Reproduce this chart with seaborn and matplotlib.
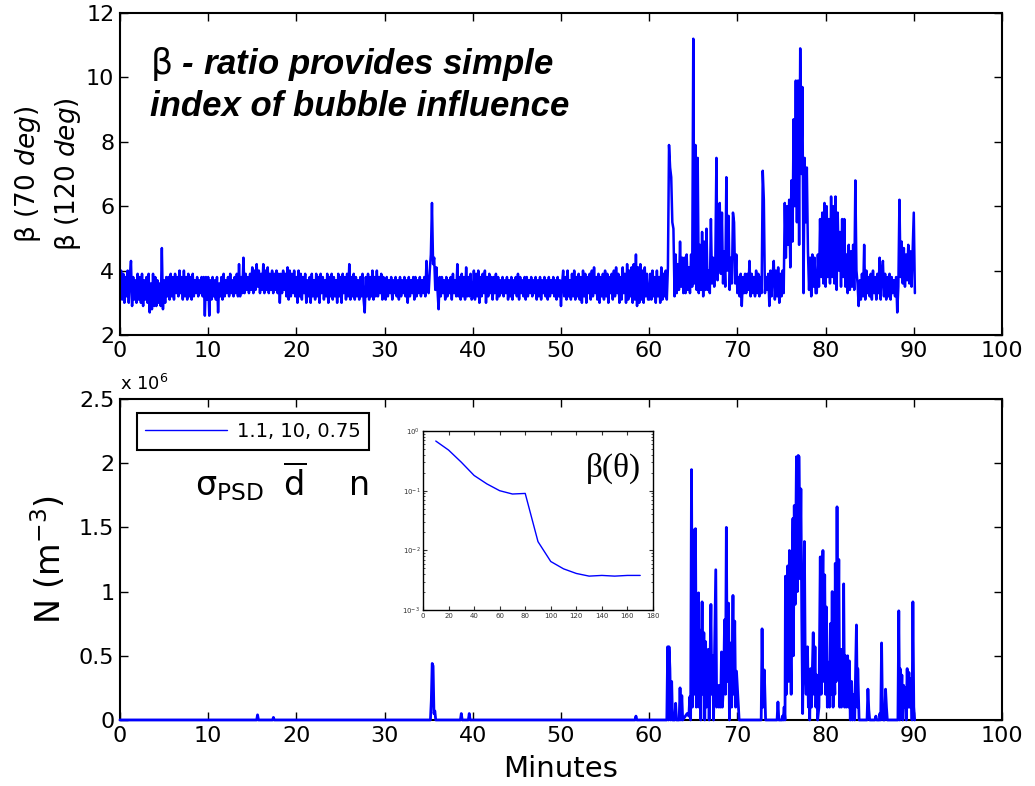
import numpy as np
import pandas as pd
import matplotlib
matplotlib.use("Agg")
import matplotlib.pyplot as plt
import seaborn as sns

# ---------------- data ----------------
# top panel: beta ratio, 8 samples per minute (rows = one minute), values in tenths
beta_min_00_09 = [
    [35,40,31,39,30,38,32,40], [30,38,43,29,38,31,37,30], [39,31,38,30,39,29,37,31],
    [38,30,39,27,36,28,39,29], [38,29,37,30,36,29,47,28], [37,30,38,32,38,31,39,32],
    [38,31,39,33,38,32,40,33], [38,31,40,32,38,31,39,32], [38,31,39,32,37,33,38,32],
    [37,33,38,32,38,26,38,31]]
beta_min_10_19 = [
    [38,26,37,31,38,32,37,31], [38,27,36,32,38,31,39,32], [37,33,38,32,39,33,37,32],
    [38,33,39,32,42,32,38,33], [44,33,39,34,38,33,39,34], [41,33,40,34,42,35,40,33],
    [39,34,42,33,40,34,41,33], [39,34,40,33,39,34,40,33], [39,30,39,33,40,34,39,32],
    [41,31,40,32,39,33,40,32]]
beta_min_20_29 = [
    [38,30,40,32,39,31,38,33], [39,30,37,32,38,30,39,32], [37,31,39,32,38,30,39,33],
    [38,31,37,32,39,30,38,32], [39,31,38,32,37,30,39,32], [38,30,39,33,38,31,39,32],
    [42,31,38,32,39,31,38,32], [37,31,38,32,39,31,27,38], [32,39,31,38,32,40,31,38],
    [32,40,32,38,33,39,31,38]]
beta_min_30_39 = [
    [37,31,38,32,37,33,38,31], [37,33,38,32,37,31,38,32], [37,33,38,32,37,30,38,32],
    [37,33,38,31,38,32,37,33], [38,32,37,33,38,32,43,34], [33,40,45,61,42,44,34,41],
    [34,28,38,32,38,33,37,31], [38,32,37,33,38,31,39,33], [37,32,42,32,38,31,39,32],
    [38,31,41,32,38,32,39,31]]
beta_min_40_49 = [
    [32,40,31,39,32,40,30,38], [32,39,33,40,30,38,32,39], [33,38,31,38,33,39,31,38],
    [32,37,33,38,32,37,33,38], [31,37,32,38,31,37,33,38], [32,39,31,38,33,37,32,38],
    [31,38,32,37,33,38,32,37], [33,38,31,37,32,38,31,37], [33,38,32,37,31,38,32,37],
    [33,38,32,37,31,38,32,37]]
beta_min_50_59 = [
    [29,36,40,32,38,31,40,32], [37,31,39,32,40,31,38,32], [39,31,38,30,40,32,39,30],
    [38,33,39,31,40,32,41,33], [38,31,39,30,38,32,39,31], [40,32,39,30,38,33,39,31],
    [40,32,41,33,39,30,38,31], [41,33,39,30,42,31,40,32], [41,30,42,31,45,29,41,30],
    [42,31,40,30,41,32,39,31]]
beta_min_60_69 = [
    [31,39,31,40,32,38,30,40], [32,38,30,41,31,39,32,40], [31,41,79,72,69,55,53,32],
    [45,33,42,34,49,35,44,33], [44,33,45,34,41,33,45,35], [112,36,79,34,75,33,48,34],
    [52,32,49,34,53,34,40,33], [56,36,44,35,43,75,37,45], [61,39,58,36,46,35,69,40],
    [57,34,44,36,58,55,36,45]]
beta_min_70_79 = [
    [33,38,32,39,29,38,33,39], [33,39,34,43,32,39,33,38], [32,40,33,39,32,38,33,71],
    [62,33,38,34,39,29,40,32], [39,43,31,40,32,41,30,39], [32,40,33,61,44,60,48,62],
    [41,68,49,87,60,99,55,99], [48,109,70,97,33,75,55,72], [46,34,44,32,45,35,44,33],
    [33,45,35,56,38,58,36,61]]
beta_min_80_90 = [
    [35,60,38,56,36,63,38,60], [36,63,34,58,40,52,35,56], [38,56,35,45,33,48,34,46],
    [35,48,34,68,40,36,29,37], [31,39,32,48,31,40,33,38], [32,39,31,40,33,38,31,39],
    [33,44,31,39,43,32,39,31], [38,32,39,31,38,33,37,32], [38,27,35,62,38,49,36,47],
    [35,45,37,48,36,46,35,47], [58,33]]
samples_per_minute = 8

# bottom panel: bubble number density (units of 1e6 m^-3), event list
n_minutes = [0, 15.5, 15.6, 15.7, 17.3, 17.4, 17.5, 35.2, 35.3, 35.4, 35.5, 35.6, 35.7, 35.8,
             38.6, 38.7, 38.8, 39.5, 39.6, 39.7, 58.4, 58.5, 58.6,
             62.0, 62.1, 62.2, 62.25, 62.35, 62.45, 62.55, 62.65, 62.9, 63.0, 63.1,
             63.4, 63.5, 63.6, 63.7, 63.8, 64.1, 64.3, 64.5, 64.6, 64.7,
             64.8, 64.9, 65.0, 65.1, 65.25, 65.35, 65.45, 65.6, 65.65, 65.75, 65.85,
             66.0, 66.1, 66.2, 66.3, 66.4, 66.5, 66.7, 66.8, 67.0, 67.1, 67.2, 67.3,
             67.55, 67.65, 67.8, 67.9, 68.05, 68.1, 68.2, 68.3, 68.45, 68.55, 68.65,
             68.75, 68.85, 69.0, 69.1, 69.25, 69.35, 69.5, 69.6, 69.7, 69.8, 69.9, 70.2,
             72.7, 72.8, 72.9, 73.05, 73.2, 74.5, 74.6, 74.7,
             75.05, 75.1, 75.2, 75.3, 75.4, 75.45, 75.55, 75.7, 75.8, 75.9, 76.0, 76.1,
             76.3, 76.35, 76.45, 76.55, 76.7, 76.8, 76.9, 77.0, 77.1, 77.2, 77.3, 77.4,
             77.6, 77.7, 77.8, 77.95, 78.05, 78.1, 78.2, 78.3, 78.4, 78.6, 78.7, 78.8,
             78.9, 79.0, 79.1, 79.25, 79.4, 79.5, 79.6, 79.7, 79.8, 79.9, 80.0, 80.1,
             80.2, 80.35, 80.45, 80.55, 80.65, 80.75, 80.85, 80.95, 81.05, 81.1, 81.2,
             81.3, 81.4, 81.5, 81.6, 81.7, 81.8, 81.9, 82.0, 82.05, 82.15, 82.25, 82.35,
             82.5, 82.6, 82.7, 82.8, 82.95, 83.05, 83.15, 83.3, 83.5, 83.6, 83.65, 83.8,
             84.7, 84.8, 84.9, 85.0, 85.6, 85.7, 85.8, 86.1, 86.15, 86.25, 86.35, 86.45,
             86.55, 86.7, 86.8, 86.9, 87.0,
             88.2, 88.3, 88.4, 88.45, 88.55, 88.65, 88.75, 88.85, 88.95, 89.05, 89.15,
             89.25, 89.35, 89.45, 89.5, 89.6, 89.65, 89.7, 89.8, 89.9, 90.0, 90.1]
n_values = [0, 0, 0.04, 0, 0, 0.02, 0, 0, 0.15, 0.44, 0.42, 0.05, 0.07, 0,
            0, 0.05, 0, 0, 0.05, 0, 0, 0.03, 0,
            0, 0.57, 0.0, 0.57, 0.40, 0.0, 0.30, 0, 0, 0.13, 0,
            0, 0.25, 0.0, 0.19, 0, 0.03, 0.05, 0.03, 0.18, 0,
            1.95, 0.1, 1.48, 0.2, 1.49, 0.1, 0.4, 0.99, 0.1, 0.7, 0,
            0.92, 0.2, 0.68, 0.0, 0.61, 0.1, 0.55, 0.0, 0.90, 0.2, 0.5, 0,
            1.17, 0.1, 0.27, 0.1, 0.27, 0.1, 0.53, 0.1, 0.3, 0.78, 0.2,
            1.50, 0.3, 0.91, 0.0, 0.6, 0.1, 0.97, 0.2, 0.77, 0.1, 0.38, 0,
            0, 0.71, 0.1, 0.39, 0, 0, 0.14, 0,
            0, 0.03, 0, 0.10, 0, 1.12, 0.2, 1.20, 0.3, 1.32, 0.6, 0.2,
            1.57, 0.5, 1.67, 0.9, 2.05, 1.0, 2.06, 2.05, 1.1, 1.80, 0.8, 0.05,
            1.39, 0.36, 0.2, 0.57, 0.1, 0.39, 0.0, 0.4, 0.1, 0.68, 0.2, 0.57,
            0.1, 0.35, 0.0, 0.1, 1.27, 0.2, 0.78, 1.32, 0.3, 1.13, 0.2, 0.88,
            0.1, 0.45, 0.1, 0.75, 0.2, 1.0, 0.1, 0.5, 0.2, 1.22, 0.3,
            1.66, 0.4, 1.25, 0.1, 0.55, 0.1, 0.55, 0.2, 1.06, 0.1, 0.5, 0.1,
            0.5, 0.1, 0.46, 0.0, 0.3, 0.0, 0.2, 0.0, 0.74, 0.1, 0.4, 0,
            0, 0.24, 0.08, 0, 0, 0.03, 0, 0, 0.05, 0, 0.60, 0.05,
            0, 0, 0.24, 0.1, 0,
            0, 0.85, 0.0, 0.40, 0.1, 0.35, 0.0, 0.27, 0.1, 0.25, 0.0,
            0.40, 0.1, 0.37, 0.1, 0.32, 0.1, 0.32, 0.0, 0.92, 0.1, 0]

# inset: beta(theta)
theta_deg = [10, 20, 30, 40, 50, 60, 70, 80, 90, 100, 110, 120, 130, 140, 150, 160, 170]
beta_theta = [0.68, 0.48, 0.30, 0.18, 0.13, 0.10, 0.088, 0.090, 0.014, 0.0065,
              0.0049, 0.0041, 0.0037, 0.0038, 0.0037, 0.0038, 0.0038]

legend_label = "1.1, 10, 0.75"
x_ticks = [0, 10, 20, 30, 40, 50, 60, 70, 80, 90, 100]
top_yticks = [2, 4, 6, 8, 10, 12]
bot_yticks = [0, 0.5, 1, 1.5, 2, 2.5]
bot_yticklabels = ["0", "0.5", "1", "1.5", "2", "2.5"]

# ---------------- build frames ----------------
rows = (beta_min_00_09 + beta_min_10_19 + beta_min_20_29 + beta_min_30_39 +
        beta_min_40_49 + beta_min_50_59 + beta_min_60_69 + beta_min_70_79 + beta_min_80_90)
beta_all = np.array([v for r in rows for v in r]) / 10.0
minutes = np.arange(len(beta_all)) / samples_per_minute
df_top = pd.DataFrame({"Minutes": minutes, "beta": beta_all})
df_bot = pd.DataFrame({"Minutes": n_minutes, "N": n_values})
df_in = pd.DataFrame({"theta": theta_deg, "beta": beta_theta})

# ---------------- style ----------------
sns.set_style("ticks")
plt.rcParams["font.family"] = ["DejaVu Sans"]
plt.rcParams["mathtext.fontset"] = "dejavusans"
for k in ["text.color", "axes.labelcolor", "xtick.color", "ytick.color"]:
    plt.rcParams[k] = "black"

BLUE = "#0000ff"
fig = plt.figure(figsize=(10.35, 7.86), dpi=100)
ax1 = fig.add_axes([0.1159, 0.5738, 0.8522, 0.4097])
ax2 = fig.add_axes([0.1159, 0.0840, 0.8522, 0.4084])
axin = fig.add_axes([0.4087, 0.2239, 0.2222, 0.2277])

def style_axes(ax, size=16, lw=1.5, tl=6):
    for s in ax.spines.values():
        s.set_linewidth(lw)
        s.set_color("black")
        s.set_visible(True)
    ax.tick_params(direction="in", top=True, right=True, length=tl, width=1,
                   labelsize=size, colors="black", pad=4)

# top panel
sns.lineplot(data=df_top, x="Minutes", y="beta", ax=ax1, color=BLUE, linewidth=1.8,
             estimator=None, sort=False)
ax1.set_xlim(0, 100)
ax1.set_ylim(2, 12)
ax1.set_xticks(x_ticks)
ax1.set_yticks(top_yticks)
ax1.set_xlabel("")
ax1.set_ylabel("β (70 $\\mathit{deg}$)\nβ (120 $\\mathit{deg}$)", fontsize=19,
               labelpad=2, linespacing=1.45)
style_axes(ax1)
ax1.text(0.034, 0.90, "$\\mathrm{β}$ - ratio provides simple\nindex of bubble influence",
         transform=ax1.transAxes, fontsize=25, fontweight="bold", style="italic",
         va="top", ha="left", family="Liberation Sans", linespacing=1.28)

# bottom panel
sns.lineplot(data=df_bot, x="Minutes", y="N", ax=ax2, color=BLUE, linewidth=2.0,
             estimator=None, sort=False, label=legend_label, zorder=3, clip_on=False)
ax2.set_xlim(0, 100)
ax2.set_ylim(0, 2.5)
ax2.set_xticks(x_ticks)
ax2.set_yticks(bot_yticks)
ax2.set_yticklabels(bot_yticklabels)
ax2.set_xlabel("Minutes", fontsize=21, labelpad=7)
ax2.set_ylabel("N (m$^{-3}$)", fontsize=24, labelpad=8)
style_axes(ax2)
leg = ax2.legend(loc="upper left", bbox_to_anchor=(0.019, 0.955), fontsize=14,
                 handlelength=4.2, frameon=True, fancybox=False, framealpha=1,
                 edgecolor="black", borderpad=0.45, handletextpad=0.5, borderaxespad=0)
leg.get_frame().set_linewidth(1.5)
for h in leg.get_lines():
    h.set_linewidth(1.0)
fig.text(0.116, 0.5115, "x 10$^6$", fontsize=13, ha="left", va="center")
ax2.text(0.085, 0.70, "σ$_{\\mathrm{PSD}}$", transform=ax2.transAxes, fontsize=24,
         ha="left", va="baseline")
ax2.text(0.185, 0.70, r"$\overline{\mathrm{d}}$", transform=ax2.transAxes, fontsize=24,
         ha="left", va="baseline")
ax2.text(0.26, 0.70, "n", transform=ax2.transAxes, fontsize=24, ha="left", va="baseline")

# inset
sns.lineplot(data=df_in, x="theta", y="beta", ax=axin, color=BLUE, linewidth=1.0,
             estimator=None, sort=False)
axin.set_yscale("log")
axin.set_xlim(0, 180)
axin.set_ylim(1e-3, 1)
axin.set_xticks([0, 20, 40, 60, 80, 100, 120, 140, 160, 180])
axin.set_xlabel("")
axin.set_ylabel("")
for s in axin.spines.values():
    s.set_linewidth(1.0)
    s.set_color("black")
axin.tick_params(which="both", direction="in", top=True, right=True, labelsize=5,
                 colors="#333333", pad=2)
axin.tick_params(which="major", length=3)
axin.tick_params(which="minor", length=1.5)
axin.text(0.95, 0.88, "β(θ)", transform=axin.transAxes, fontsize=24, ha="right",
          va="top", family="Liberation Serif")

fig.savefig("out.png", dpi=100)
